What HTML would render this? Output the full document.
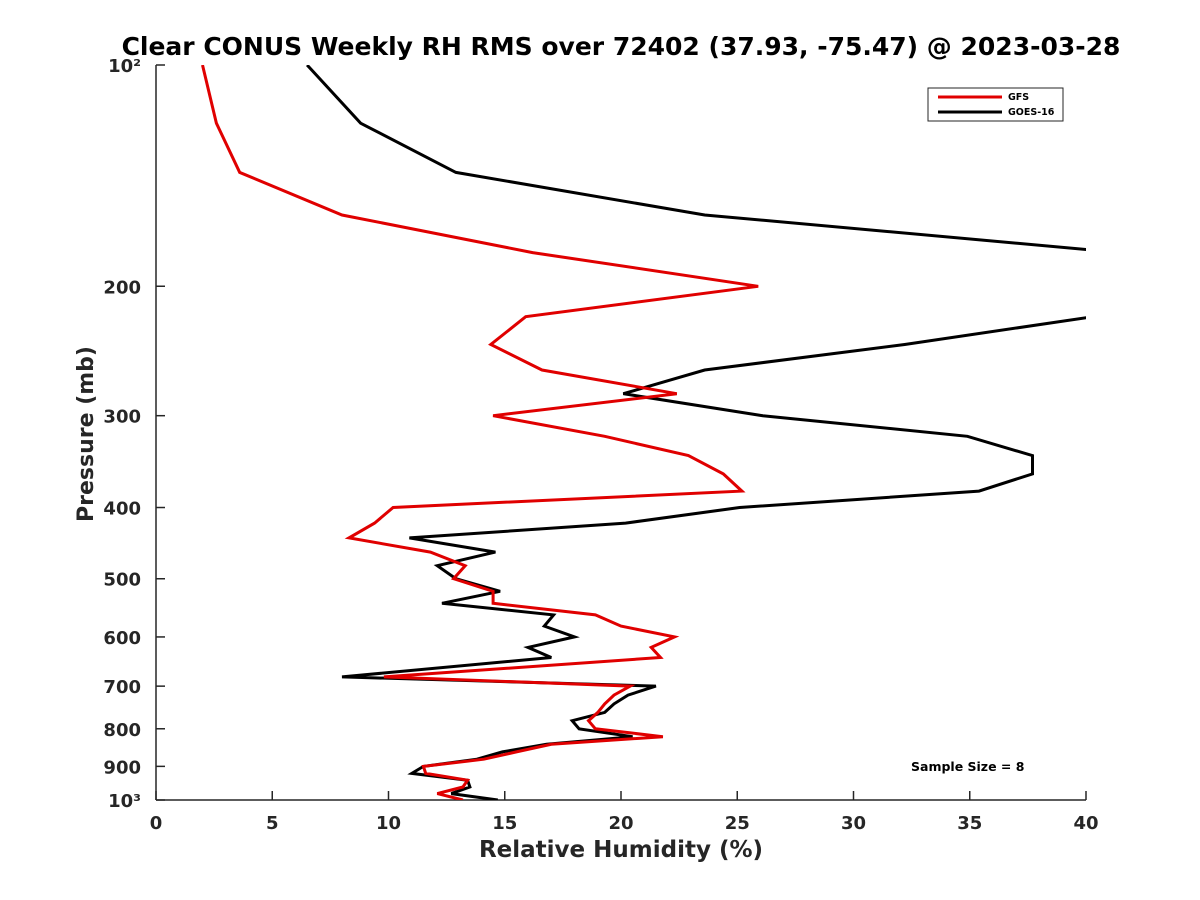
<!DOCTYPE html>
<html><head><meta charset="utf-8"><style>
html,body{margin:0;padding:0;background:#fff;}
svg{display:block;font-family:"DejaVu Sans","Liberation Sans",sans-serif;font-weight:bold;}
</style></head><body>
<svg id="chart" width="1200" height="900" viewBox="0 0 1200 900" xmlns="http://www.w3.org/2000/svg">
<defs><clipPath id="clip"><rect x="156" y="65" width="930" height="735"/></clipPath></defs>
<text x="621" y="55" text-anchor="middle" font-size="25" fill="#000">Clear CONUS Weekly RH RMS over 72402 (37.93, -75.47) @ 2023-03-28</text>
<g id="axes"></g>
<g id="series" clip-path="url(#clip)"></g>
<g>
<rect x="928" y="88" width="135" height="33" fill="#fff" stroke="#262626" stroke-width="1"/>
<line x1="938" y1="97" x2="1002" y2="97" stroke="#e00000" stroke-width="3"/>
<text x="1008" y="100" font-size="9.5">GFS</text>
<line x1="938" y1="112" x2="1002" y2="112" stroke="#000" stroke-width="3"/>
<text x="1008" y="115" font-size="9.5">GOES-16</text>
</g>
<text x="911" y="771" font-size="12.5">Sample Size = 8</text>
<text x="621" y="857" text-anchor="middle" font-size="23" fill="#262626">Relative Humidity (%)</text>
<text transform="translate(93,434) rotate(-90)" text-anchor="middle" font-size="22" fill="#262626">Pressure (mb)</text>
</svg>
<script>
const gfsPressure = [100,120,140,160,180,200,220,240,260,280,300,320,340,360,380,400,420,440,460,480,500,520,540,560,580,600,620,640,680,700,720,740,760,780,800,820,840,860,880,900,920,940,960,980,1000];
const gfsRH = [2.0,2.6,3.6,8.0,16.2,25.9,15.9,14.4,16.6,22.4,14.5,19.3,22.9,24.4,25.2,10.2,9.4,8.3,11.8,13.3,12.8,14.5,14.5,18.9,20.0,22.3,21.3,21.7,9.8,20.4,19.7,19.3,19.0,18.6,18.9,21.8,17.0,15.5,14.1,11.5,11.6,13.4,13.2,12.1,13.2];
const goesPressure = [100,120,140,160,180,200,220,240,260,280,300,320,340,360,380,400,420,440,460,480,500,520,540,560,580,600,620,640,680,700,720,740,760,780,800,820,840,860,880,900,920,940,960,980,1000];
const goesRH = [6.5,8.8,12.9,23.6,41.5,55,40.3,32.2,23.6,20.1,26.1,34.9,37.7,37.7,35.4,25.1,20.2,10.9,14.6,12.1,12.9,14.8,12.3,17.1,16.7,18.0,16.0,17.0,8.0,21.5,20.3,19.7,19.3,17.9,18.2,20.5,16.8,14.9,13.8,11.5,11.0,13.4,13.5,12.7,14.7];
const xTicks = [0,5,10,15,20,25,30,35,40];
const yTicks = [100,200,300,400,500,600,700,800,900,1000];
const yTickLabels = ["10²","200","300","400","500","600","700","800","900","10³"];

const X0=156,X1=1086,Y0=65,Y1=800;
const xs = v => X0 + (v-0)/(40-0)*(X1-X0);
const ys = p => Y0 + (Math.log10(p)-2)*(Y1-Y0);
const NS="http://www.w3.org/2000/svg";
const axes=document.getElementById('axes');
const series=document.getElementById('series');
function mk(tag,attrs,parent){const e=document.createElementNS(NS,tag);for(const k in attrs)e.setAttribute(k,attrs[k]);parent.appendChild(e);return e;}

let l=mk('line',{x1:X0,y1:Y0,x2:X0,y2:Y1,stroke:'#262626','stroke-width':1.5},axes);


l=mk('line',{x1:X0,y1:Y1,x2:X1,y2:Y1,stroke:'#262626','stroke-width':1.5},axes);



xTicks.forEach(v=>{
  const t=mk('line',{x1:xs(v),y1:Y1,x2:xs(v),y2:Y1-9,stroke:'#262626','stroke-width':1.5},axes);
  
  
  const tx=mk('text',{x:xs(v),y:Y1+29,'text-anchor':'middle','font-size':18,fill:'#262626'},axes);
  tx.textContent=v;
  
  
});
yTicks.forEach((p,i)=>{
  const t=mk('line',{x1:X0,y1:ys(p),x2:X0+9,y2:ys(p),stroke:'#262626','stroke-width':1.5},axes);
  
  
  const tx=mk('text',{x:X0-15,y:ys(p)+7,'text-anchor':'end','font-size':18,fill:'#262626'},axes);
  tx.textContent=yTickLabels[i];
  
  
});

function drawLine(P,V,color,name){
  const d=P.map((p,i)=>(i?'L':'M')+xs(V[i]).toFixed(1)+' '+ys(p).toFixed(1)).join(' ');
  const path=mk('path',{d:d,fill:'none',stroke:color,'stroke-width':3,'stroke-linejoin':'miter'},series);
  
  
}
drawLine(goesPressure,goesRH,'#000','goes16-line');
drawLine(gfsPressure,gfsRH,'#e00000','gfs-line');
</script>
</body></html>
